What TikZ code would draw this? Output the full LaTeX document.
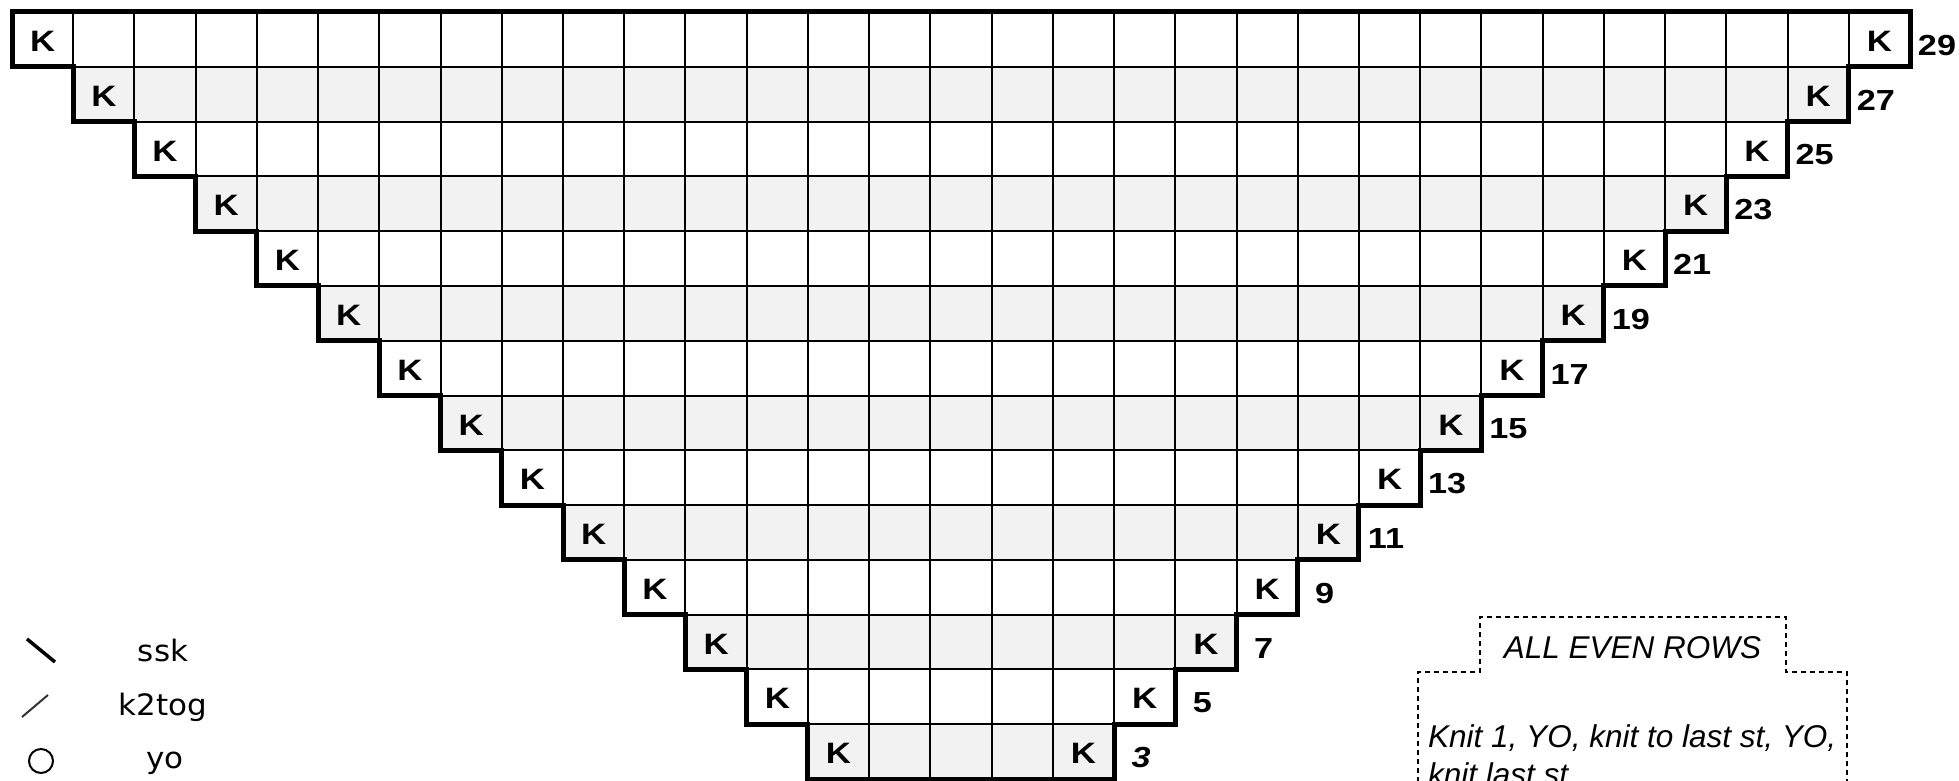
\documentclass[tikz,border=0pt]{standalone}
\usepackage{fontspec}
\setmainfont{Liberation Sans}
\newfontfamily\legendfont[FakeStretch=1.05]{DejaVu Sans}
\newfontfamily\chartfont[FakeStretch=1.18]{Liberation Sans}
\definecolor{rowgray}{HTML}{F2F2F2}
\definecolor{symgray}{HTML}{333333}
\begin{document}
\begin{tikzpicture}[x=1pt,y=-1pt,
  gridline/.style={line width=2pt,black},
  outline/.style={line width=5pt,black,line join=miter},
  kmark/.style={font=\chartfont\fontsize{29.5}{29.5}\selectfont\bfseries,inner sep=0pt},
  rowlab/.style={font=\chartfont\fontsize{29}{29}\selectfont\bfseries,inner sep=0pt},
  legtext/.style={font=\legendfont\fontsize{29.5}{29.5}\selectfont,inner sep=0pt,anchor=base},
  notetext/.style={font=\fontsize{31.5}{31.5}\selectfont\itshape,inner sep=0pt,anchor=base},
  notebox/.style={line width=2pt,dash pattern=on 5pt off 4pt}
]
\clip (0,0) rectangle (1959,781);
\fill[white] (0,0) rectangle (1959,781);
\def\W{61.226}
\def\H{54.786}
% row fills
\foreach \i in {0,...,13}{
  \pgfmathsetmacro\xl{12+\i*\W}
  \pgfmathsetmacro\xr{1910-\i*\W}
  \pgfmathsetmacro\yt{12+\i*\H}
  \pgfmathsetmacro\yb{12+(\i+1)*\H}
  \pgfmathtruncatemacro\odd{mod(\i,2)}
  \ifnum\odd=1 \fill[rowgray] (\xl,\yt) rectangle (\xr,\yb); \fi
}
% thin grid lines
\foreach \i in {0,...,13}{
  \pgfmathsetmacro\xl{12+\i*\W}
  \pgfmathsetmacro\yt{12+\i*\H}
  \pgfmathsetmacro\yb{12+(\i+1)*\H}
  \pgfmathtruncatemacro\n{30-2*\i}
  \foreach \j in {1,...,\n}{
    \draw[gridline] (\xl+\j*\W,\yt) -- (\xl+\j*\W,\yb);
  }
}
\foreach \i in {0,...,12}{
  \pgfmathsetmacro\xa{12+(\i+1)*\W}
  \pgfmathsetmacro\xb{1910-(\i+1)*\W}
  \pgfmathsetmacro\yb{12+(\i+1)*\H}
  \draw[gridline] (\xa,\yb) -- (\xb,\yb);
}
% thick staircase outline
\draw[outline] (12,12) -- (1910,12)
  \foreach \i in {0,...,12}{ -- (1910-\i*\W,12+\i*\H+\H) -- (1910-\i*\W-\W,12+\i*\H+\H) }
  -- (1910-13*\W,779) -- (12+13*\W,779)
  \foreach \i in {13,12,...,1}{ -- (12+\i*\W,12+\i*\H) -- (12+\i*\W-\W,12+\i*\H) }
  -- cycle;
% K marks and row numbers
\foreach \i in {0,...,13}{
  \pgfmathsetmacro\xl{12+\i*\W}
  \pgfmathsetmacro\xr{1910-\i*\W}
  \pgfmathsetmacro\yc{12+\i*\H+\H/2}
  \pgfmathtruncatemacro\lab{29-2*\i}
  \node[kmark] (kl\i) at (\xl+\W/2,\yc+2) {K};
  \node[kmark] (kr\i) at (\xr-\W/2,\yc+2) {K};
  \node[rowlab] (lab\i) at (\xr+27,\yc+6) {\ifnum\i=13 \itshape\fi\lab};
}
% legend
\draw[line width=3.5pt] (27,639) -- (55,662);
\node[legtext] (ssk) at (163,661) {ssk};
\draw[line width=2pt,symgray] (22,717) -- (48,695);
\node[legtext] (k2tog) at (163,715) {k2tog};
\draw[line width=2pt] (41,761) circle (12);
\node[legtext] (yo) at (165,768) {yo};
% even rows note
\draw[notebox] (1418,800) -- (1418,672) -- (1480,672) -- (1480,617) -- (1786,617) -- (1786,672) -- (1847,672) -- (1847,800);
\node[notetext] (evenhead) at (1632.5,658) {ALL EVEN ROWS};
\node[notetext,anchor=base west] (evenline1) at (1428,747) {Knit 1, YO, knit to last st, YO,};
\node[notetext,anchor=base west] (evenline2) at (1428,785) {knit last st};
\end{tikzpicture}
\end{document}
